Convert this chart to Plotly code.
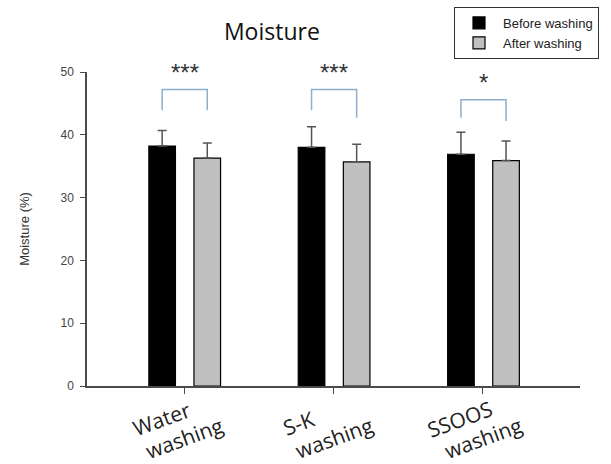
import math
import plotly.graph_objects as go

# ---- data ----
categories = ["Water washing", "S-K washing", "SSOOS washing"]
label_line1 = ["Water", "S-K", "SSOOS"]
label_line2 = ["washing", "washing", "washing"]
before = [38.2, 38.0, 36.9]
before_err = [2.5, 3.3, 3.5]
after = [36.3, 35.7, 35.9]
after_err = [2.4, 2.8, 3.1]
stars = ["***", "***", "*"]
bracket_top = [47.2, 47.2, 45.6]
bracket_left_end = [43.9, 43.9, 42.7]
bracket_right_end = [43.9, 42.7, 42.2]
y_ticks = [0, 10, 20, 30, 40, 50]

# ---- style ----
BAR_W = 0.178
OFF_BEFORE = -0.236
OFF_AFTER = 0.066
AXIS_COL = "#4a4a4a"
BRACKET_COL = "#8eaecb"
LBL_SIZE = 21
LBL_ANGLE = 20  # degrees, counter-clockwise

fig = go.Figure()
fig.add_trace(go.Bar(
    x=categories, y=before, name="Before washing",
    width=BAR_W, offset=OFF_BEFORE,
    marker=dict(color="black", line=dict(color="black", width=1.2)),
    error_y=dict(type="data", array=before_err, arrayminus=[0] * len(before_err),
                 symmetric=False, color="#555555", thickness=1.5, width=4.5),
))
fig.add_trace(go.Bar(
    x=categories, y=after, name="After washing",
    width=BAR_W, offset=OFF_AFTER,
    marker=dict(color="#c0c0c0", line=dict(color="black", width=1.2)),
    error_y=dict(type="data", array=after_err, arrayminus=[0] * len(after_err),
                 symmetric=False, color="#555555", thickness=1.5, width=4.5),
))

th = math.radians(LBL_ANGLE)
line_gap = 26
for i, cat in enumerate(categories):
    xl = i + OFF_BEFORE + BAR_W / 2
    xr = i + OFF_AFTER + BAR_W / 2
    fig.add_shape(type="path", xref="x", yref="y",
                  path=f"M{xl},{bracket_left_end[i]} L{xl},{bracket_top[i]} "
                       f"L{xr},{bracket_top[i]} L{xr},{bracket_right_end[i]}",
                  line=dict(color=BRACKET_COL, width=1.5))
    fig.add_annotation(x=(xl + xr) / 2, y=bracket_top[i], xref="x", yref="y",
                       text=stars[i], showarrow=False, yanchor="bottom", yshift=2,
                       font=dict(family="Liberation Sans, Arial", size=24, color="#333333"))
    # rotated two-line category label (lines left-aligned in the rotated frame)
    w1 = len(label_line1[i]) * 0.6 * LBL_SIZE
    w2 = len(label_line2[i]) * 0.55 * LBL_SIZE
    u = -w2 / 2 + w1 / 2 - 6
    v = -line_gap
    dx = u * math.cos(th) + v * math.sin(th)
    dy = -u * math.sin(th) + v * math.cos(th)
    base_dx, base_dy = 0, 52
    fig.add_annotation(x=i, y=0, xref="x", yref="y", text=label_line2[i],
                       showarrow=False, textangle=-LBL_ANGLE,
                       xanchor="center", yanchor="middle", xshift=base_dx, yshift=-base_dy,
                       font=dict(family="Open Sans", size=LBL_SIZE, color="#222222"))
    fig.add_annotation(x=i, y=0, xref="x", yref="y", text=label_line1[i],
                       showarrow=False, textangle=-LBL_ANGLE,
                       xanchor="center", yanchor="middle",
                       xshift=base_dx + dx, yshift=-(base_dy + dy),
                       font=dict(family="Open Sans", size=LBL_SIZE, color="#222222"))

fig.update_layout(
    width=611, height=464,
    margin=dict(l=87, r=31, t=72, b=78, autoexpand=False),
    paper_bgcolor="white", plot_bgcolor="white",
    title=dict(text="Moisture", x=0.445, xanchor="center", y=1 - 31.5 / 464,
               yanchor="middle", font=dict(family="Open Sans", size=23, color="#111111")),
    showlegend=True,
    legend=dict(xref="container", yref="container", x=454 / 611, y=1 - 7 / 464,
                xanchor="left", yanchor="top", itemwidth=38,
                bordercolor="#333333", borderwidth=1, bgcolor="white",
                font=dict(family="Liberation Sans, Arial", size=13, color="#222222"),
                tracegroupgap=0),
    barmode="overlay",
)
fig.update_xaxes(range=[-0.65, 2.65], showline=True, linecolor=AXIS_COL, linewidth=1.5,
                 ticks="outside", ticklen=6, tickcolor=AXIS_COL, showticklabels=False,
                 showgrid=False, zeroline=False, automargin=False)
fig.update_yaxes(range=[0, 50], tickvals=y_ticks, showline=True, linecolor=AXIS_COL,
                 linewidth=1.5, ticks="outside", ticklen=5, tickcolor=AXIS_COL,
                 tickfont=dict(family="Liberation Sans, Arial", size=12, color="#444444"),
                 ticklabelstandoff=4, automargin=False,
                 title=dict(text="Moisture (%)", standoff=28,
                            font=dict(family="Liberation Sans, Arial", size=13, color="#333333")),
                 showgrid=False, zeroline=False)

fig.write_html("out.html")
